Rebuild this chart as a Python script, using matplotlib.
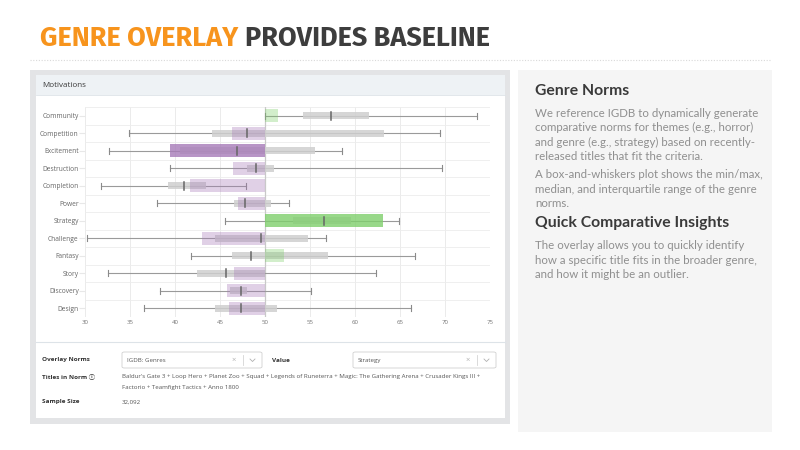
import matplotlib
matplotlib.use("Agg")
import matplotlib.pyplot as plt
from matplotlib.patches import Rectangle, FancyBboxPatch
from matplotlib.lines import Line2D

# ---------------- data ----------------
categories = ["Community", "Competition", "Excitement", "Destruction", "Completion", "Power",
              "Strategy", "Challenge", "Fantasy", "Story", "Discovery", "Design"]
title_values = [51.4, 46.3, 39.4, 46.4, 41.7, 47.0, 63.1, 43.0, 52.1, 46.6, 45.8, 46.0]
significant = [False, False, True, False, False, False, True, False, False, False, False, False]
norm_min = [50.0, 34.9, 32.7, 39.4, 31.8, 38.0, 45.6, 30.2, 41.8, 32.6, 38.3, 36.6]
norm_q1 = [54.2, 44.1, 40.5, 48.0, 39.2, 46.6, 53.1, 44.4, 46.3, 42.4, 46.1, 44.4]
norm_median = [57.3, 48.0, 46.9, 49.0, 41.0, 47.8, 56.6, 49.5, 48.4, 45.7, 47.3, 47.3]
norm_q3 = [61.6, 63.2, 55.6, 51.0, 43.4, 50.7, 59.5, 54.8, 57.0, 50.0, 48.0, 51.3]
norm_max = [73.5, 69.4, 58.6, 69.7, 47.9, 52.7, 64.9, 56.8, 66.7, 62.3, 55.1, 66.2]
baseline = 50
x_ticks = [30, 35, 40, 45, 50, 55, 60, 65, 70, 75]

titles_line1 = ("Baldur's Gate 3 + Loop Hero + Planet Zoo + Squad + Legends of Runeterra + "
                "Magic: The Gathering Arena + Crusader Kings III +")
titles_line2 = "Factorio + Teamfight Tactics + Anno 1800"
sample_size = "32,092"

W, H = 800, 450
fig = plt.figure(figsize=(8, 4.5), dpi=100)
fig.patch.set_facecolor("white")


def fx(x):
    return x / W


def fy(y):
    return 1 - y / H


def rect(x0, y0, x1, y1, fc, ec="none", lw=0, z=0):
    r = Rectangle((fx(x0), fy(y1)), fx(x1) - fx(x0), fy(y0) - fy(y1), transform=fig.transFigure,
                  facecolor=fc, edgecolor=ec, linewidth=lw, zorder=z)
    fig.add_artist(r)
    return r


def hline(x0, x1, y, color, lw=0.6, ls="-", z=1):
    fig.add_artist(Line2D([fx(x0), fx(x1)], [fy(y), fy(y)], transform=fig.transFigure,
                          color=color, lw=lw, ls=ls, zorder=z))


def text(x, y, s, **kw):
    kw.setdefault("transform", fig.transFigure)
    kw.setdefault("zorder", 3)
    return fig.text(fx(x), fy(y), s, **kw)


UI = ["Open Sans", "Noto Sans CJK JP", "DejaVu Sans"]
PANEL = ["Lato", "DejaVu Sans"]
TITLE = ["Fira Sans", "Open Sans", "DejaVu Sans"]

# ---------------- title ----------------
t1 = text(40, 46.5, "GENRE OVERLAY", fontsize=19.5, fontweight="bold", color="#f7941d",
          family=TITLE, va="baseline", ha="left")
fig.canvas.draw()
r = fig.canvas.get_renderer()
bb = t1.get_window_extent(r)
text(bb.x1 + 7, 46.5, "PROVIDES BASELINE", fontsize=19.5, fontweight="bold", color="#3d3d3d",
     family=TITLE, va="baseline", ha="left")
hline(30, 770, 60, "#d9d9d9", lw=0.8, ls=(0, (1, 1.5)))

# ---------------- left panel frame ----------------
rect(30, 70, 510, 424, "#e3e4e6", z=0)
rect(36, 75, 505, 418, "white", z=0.5)
rect(36, 75, 505, 95, "#eef2f5", z=0.6)
hline(36, 505, 95, "#dde3e8", lw=0.6, z=0.7)
hline(36, 505, 342, "#dde3e8", lw=0.8, z=0.7)
text(42, 85.5, "Motivations", fontsize=5.8, color="#3a3a3a", family=UI, va="center", ha="left")

# ---------------- chart ----------------
ax_l, ax_r, ax_t, ax_b = 85, 490, 107, 317
ax = fig.add_axes([fx(ax_l), fy(ax_b), fx(ax_r) - fx(ax_l), fy(ax_t) - fy(ax_b)])
ax.set_zorder(5)
ax.set_facecolor("none")
n = len(categories)
ax.set_xlim(x_ticks[0], x_ticks[-1])
ax.set_ylim(n - 0.5, -0.5)
for s in ax.spines.values():
    s.set_visible(False)
for xv in x_ticks:
    ax.axvline(xv, color="#e8e8e8", lw=0.6, zorder=0)
for i in range(n + 1):
    ax.axhline(i - 0.5, color="#ededed", lw=0.6, zorder=0)

purple = "#a77bb8"
green = "#7fcf6c"
for i in range(n):
    # whiskers
    ax.plot([norm_min[i], norm_max[i]], [i, i], color="#9a9a9a", lw=0.8, zorder=2)
    for v in (norm_min[i], norm_max[i]):
        ax.plot([v, v], [i - 0.16, i + 0.16], color="#8a8a8a", lw=0.8, zorder=2)
    # IQR box
    ax.barh(i, norm_q3[i] - norm_q1[i], left=norm_q1[i], height=0.38, color="#cfcfcf",
            alpha=0.85, zorder=3, linewidth=0)
    # title overlay bar
    col = green if title_values[i] >= baseline else purple
    alpha = 0.8 if significant[i] else 0.35
    ax.barh(i, title_values[i] - baseline, left=baseline, height=0.74, color=col,
            alpha=alpha, zorder=4, linewidth=0)
    # median
    ax.plot([norm_median[i], norm_median[i]], [i - 0.22, i + 0.22], color="#666666", lw=1.1,
            zorder=5)

ax.axvline(baseline, color="#c9c9c9", lw=0.9, zorder=1)
ax.set_yticks(range(n))
ax.set_yticklabels(categories, fontsize=4.8, color="#666666", family=UI)
ax.set_xticks(x_ticks)
ax.set_xticklabels([str(v) for v in x_ticks], fontsize=4.4, color="#777777", family=UI)
ax.tick_params(axis="y", length=4, color="#e8e8e8", pad=0.5)
ax.tick_params(axis="x", length=0, pad=2.5)

# ---------------- form section ----------------
lab_kw = dict(fontsize=4.6, color="#333333", fontweight="bold", family=UI, va="center", ha="left")
val_kw = dict(fontsize=4.4, color="#555555", family=UI, va="center", ha="left")
text(42, 360, "Overlay Norms", **lab_kw)
text(272, 360, "Value", **lab_kw)
text(42, 377, "Titles in Norm \u24d8", **lab_kw)
text(42, 402, "Sample Size", **lab_kw)


def dropdown(x0, x1, label):
    b = FancyBboxPatch((fx(x0), fy(368)), fx(x1) - fx(x0), fy(352) - fy(368),
                       boxstyle="round,pad=0,rounding_size=0.003", transform=fig.transFigure,
                       facecolor="white", edgecolor="#d0d0d0", linewidth=0.6, zorder=2)
    fig.add_artist(b)
    text(x0 + 5, 360.5, label, **val_kw)
    text(x1 - 28, 360, "\u00d7", fontsize=5.5, color="#b0b0b0", family=UI, va="center",
         ha="center")
    fig.add_artist(Line2D([fx(x1 - 19), fx(x1 - 19)], [fy(355), fy(365)],
                          transform=fig.transFigure, color="#d5d5d5", lw=0.6, zorder=3))
    fig.add_artist(Line2D([fx(x1 - 12), fx(x1 - 9.5), fx(x1 - 7)], [fy(359), fy(361.5), fy(359)],
                          transform=fig.transFigure, color="#b0b0b0", lw=0.6, zorder=3))


dropdown(122, 262, "IGDB: Genres")
dropdown(353, 496, "Strategy")
text(122, 376.5, titles_line1, **val_kw)
text(122, 387, titles_line2, **val_kw)
text(122, 402, sample_size, **val_kw)

# ---------------- right panel ----------------
rect(518, 70, 772, 432, "#f5f5f5", z=0)
h_kw = dict(fontsize=11.3, color="#3a3a3a", fontweight="bold", family=PANEL, va="center",
            ha="left")
b_kw = dict(fontsize=8.3, color="#8f8f8f", family=PANEL, va="center", ha="left")
text(535, 91, "Genre Norms", **h_kw)
para1 = ["We reference IGDB to dynamically generate",
         "comparative norms for themes (e.g., horror)",
         "and genre (e.g., strategy) based on recently-",
         "released titles that fit the criteria."]
for k, line in enumerate(para1):
    text(535, 113.5 + 14.3 * k, line, **b_kw)
para2 = ["A box-and-whiskers plot shows the min/max,",
         "median, and interquartile range of the genre",
         "norms."]
for k, line in enumerate(para2):
    text(535, 175 + 14.1 * k, line, **b_kw)
text(535, 223.5, "Quick Comparative Insights", **h_kw)
para3 = ["The overlay allows you to quickly identify",
         "how a specific title fits in the broader genre,",
         "and how it might be an outlier."]
for k, line in enumerate(para3):
    text(535, 246 + 14.0 * k, line, **b_kw)

fig.savefig("out.png", dpi=100, facecolor="white")
